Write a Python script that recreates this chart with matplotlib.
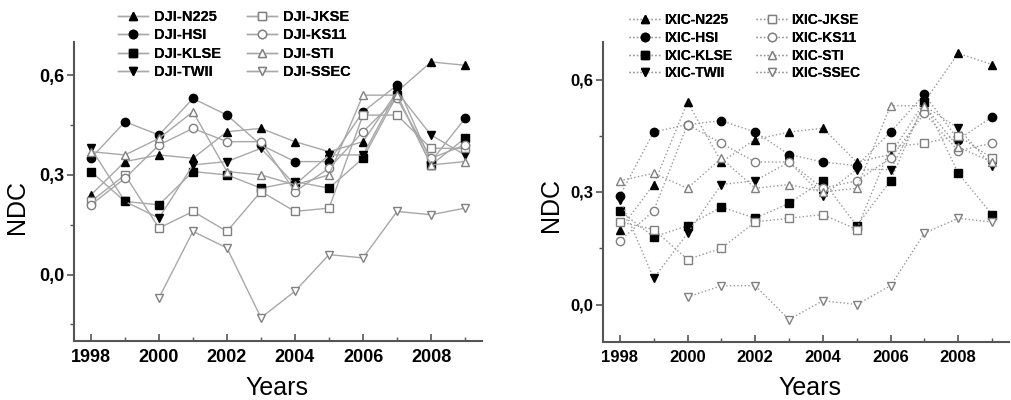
import numpy as np
import matplotlib
matplotlib.use("Agg")
import matplotlib.pyplot as plt
from matplotlib.ticker import MultipleLocator

plt.rcParams['font.family'] = ['Liberation Sans', 'DejaVu Sans']

years = list(range(1998, 2010))
nan = np.nan

series_names = ["N225", "HSI", "KLSE", "TWII", "JKSE", "KS11", "STI", "SSEC"]

# DJI panel
dji_n225 = [0.24, 0.34, 0.36, 0.35, 0.43, 0.44, 0.40, 0.37, 0.40, 0.55, 0.64, 0.63]
dji_hsi  = [0.35, 0.46, 0.42, 0.53, 0.48, 0.39, 0.34, 0.34, 0.49, 0.57, 0.34, 0.47]
dji_klse = [0.31, 0.22, 0.21, 0.31, 0.30, 0.26, 0.28, 0.26, 0.35, 0.54, 0.33, 0.41]
dji_twii = [0.38, 0.22, 0.17, 0.33, 0.34, 0.38, 0.27, 0.36, 0.36, 0.55, 0.42, 0.36]
dji_jkse = [0.22, 0.30, 0.14, 0.19, 0.13, 0.25, 0.19, 0.20, 0.48, 0.48, 0.38, 0.38]
dji_ks11 = [0.21, 0.29, 0.39, 0.44, 0.40, 0.40, 0.25, 0.32, 0.43, 0.53, 0.35, 0.39]
dji_sti  = [0.37, 0.36, 0.41, 0.49, 0.31, 0.30, 0.27, 0.30, 0.54, 0.54, 0.33, 0.34]
dji_ssec = [nan, nan, -0.07, 0.13, 0.08, -0.13, -0.05, 0.06, 0.05, 0.19, 0.18, 0.20]

# IXIC panel
ixic_n225 = [0.20, 0.32, 0.54, 0.38, 0.44, 0.46, 0.47, 0.38, 0.40, 0.54, 0.67, 0.64]
ixic_hsi  = [0.29, 0.46, 0.48, 0.49, 0.46, 0.40, 0.38, 0.37, 0.46, 0.56, 0.44, 0.50]
ixic_klse = [0.25, 0.18, 0.21, 0.26, 0.23, 0.27, 0.33, 0.21, 0.33, 0.54, 0.35, 0.24]
ixic_twii = [0.28, 0.07, 0.19, 0.32, 0.33, 0.38, 0.29, 0.36, 0.36, 0.53, 0.47, 0.37]
ixic_jkse = [0.22, 0.20, 0.12, 0.15, 0.22, 0.23, 0.24, 0.20, 0.42, 0.43, 0.45, 0.39]
ixic_ks11 = [0.17, 0.25, 0.48, 0.43, 0.38, 0.38, 0.31, 0.33, 0.39, 0.51, 0.41, 0.43]
ixic_sti  = [0.33, 0.35, 0.31, 0.39, 0.31, 0.32, 0.30, 0.31, 0.53, 0.53, 0.42, 0.38]
ixic_ssec = [nan, nan, 0.02, 0.05, 0.05, -0.04, 0.01, 0.00, 0.05, 0.19, 0.23, 0.22]

dji = [dji_n225, dji_hsi, dji_klse, dji_twii, dji_jkse, dji_ks11, dji_sti, dji_ssec]
ixic = [ixic_n225, ixic_hsi, ixic_klse, ixic_twii, ixic_jkse, ixic_ks11, ixic_sti, ixic_ssec]

yticks = [0.0, 0.3, 0.6]
ytick_labels = ["0,0", "0,3", "0,6"]
xticks = [1998, 2000, 2002, 2004, 2006, 2008]

markers = ['^', 'o', 's', 'v', 's', 'o', '^', 'v']
filled = [True, True, True, True, False, False, False, False]

fig = plt.figure(figsize=(10.12, 4.0), dpi=100)
axL = fig.add_axes([0.0731, 0.1475, 0.4032, 0.7475])
axR = fig.add_axes([0.5958, 0.145, 0.4012, 0.75])

def draw(ax, data, prefix, ls, lc, ylim, tickfs):
    handles = []
    for vals, name, m, f in zip(data, series_names, markers, filled):
        if f:
            kw = dict(markerfacecolor='black', markeredgecolor='black')
        else:
            kw = dict(markerfacecolor='white', markeredgecolor='#808080', markeredgewidth=1.0)
        h, = ax.plot(years, vals, linestyle=ls, color=lc, linewidth=1.0,
                     marker=m, markersize=6, label=f"{prefix}-{name}", **kw)
        handles.append(h)
    ax.set_xlim(1997.5, 2009.5)
    ax.set_ylim(*ylim)
    ax.set_xticks(xticks)
    ax.xaxis.set_minor_locator(MultipleLocator(1))
    ax.set_yticks(yticks)
    ax.set_yticklabels(ytick_labels)
    ax.yaxis.set_minor_locator(MultipleLocator(0.15))
    for s in ['top', 'right']:
        ax.spines[s].set_visible(False)
    for s in ['left', 'bottom']:
        ax.spines[s].set_color('#555555')
        ax.spines[s].set_linewidth(1.5)
    ax.tick_params(axis='x', which='major', direction='in', length=5, width=1.2,
                   color='#555555', pad=6, labelsize=tickfs)
    ax.tick_params(axis='x', which='minor', direction='in', length=3, width=1.0,
                   color='#555555')
    ax.tick_params(axis='y', which='major', direction='out', length=5, width=1.2,
                   color='#555555', pad=2, labelsize=tickfs)
    ax.tick_params(axis='y', which='minor', direction='out', length=3, width=1.0,
                   color='#555555')
    for lab in ax.get_xticklabels() + ax.get_yticklabels():
        lab.set_fontweight('bold')
    return handles

hL = draw(axL, dji, "DJI", '-', '#a8a8a8', (-0.2, 0.7), 13)
hR = draw(axR, ixic, "IXIC", ':', '#999999', (-0.1, 0.7), 12)

legkwL = dict(frameon=False, numpoints=1, handlelength=2.06,
              handletextpad=0.41, labelspacing=0.30,
              borderpad=0, borderaxespad=0, loc='upper left',
              prop={'size': 10.5, 'weight': 'bold'})
legkwR = dict(frameon=False, numpoints=1, handlelength=2.35,
              handletextpad=0.2, labelspacing=0.27,
              borderpad=0, borderaxespad=0, loc='upper left',
              prop={'size': 10, 'weight': 'bold'})

def add_leg(handles, x, y, kw):
    leg = fig.legend(handles=handles, bbox_to_anchor=(x/1012, 1 - y/400), **kw)
    fig.add_artist(leg)

add_leg(hL[:4], 118, 10, legkwL)
add_leg(hL[4:], 247, 10, legkwL)
add_leg(hR[:4], 629, 13, legkwR)
add_leg(hR[4:], 756, 13, legkwR)

fig.text(277/1012, 5/400, "Years", ha='center', va='baseline', fontsize=18)
fig.text(810/1012, 5/400, "Years", ha='center', va='baseline', fontsize=18)
fig.text(17/1012, 1 - 207/400, "NDC", ha='center', va='center', rotation=90, fontsize=18)
fig.text(551/1012, 1 - 205/400, "NDC", ha='center', va='center', rotation=90, fontsize=18)

fig.savefig("out.png", dpi=100)
